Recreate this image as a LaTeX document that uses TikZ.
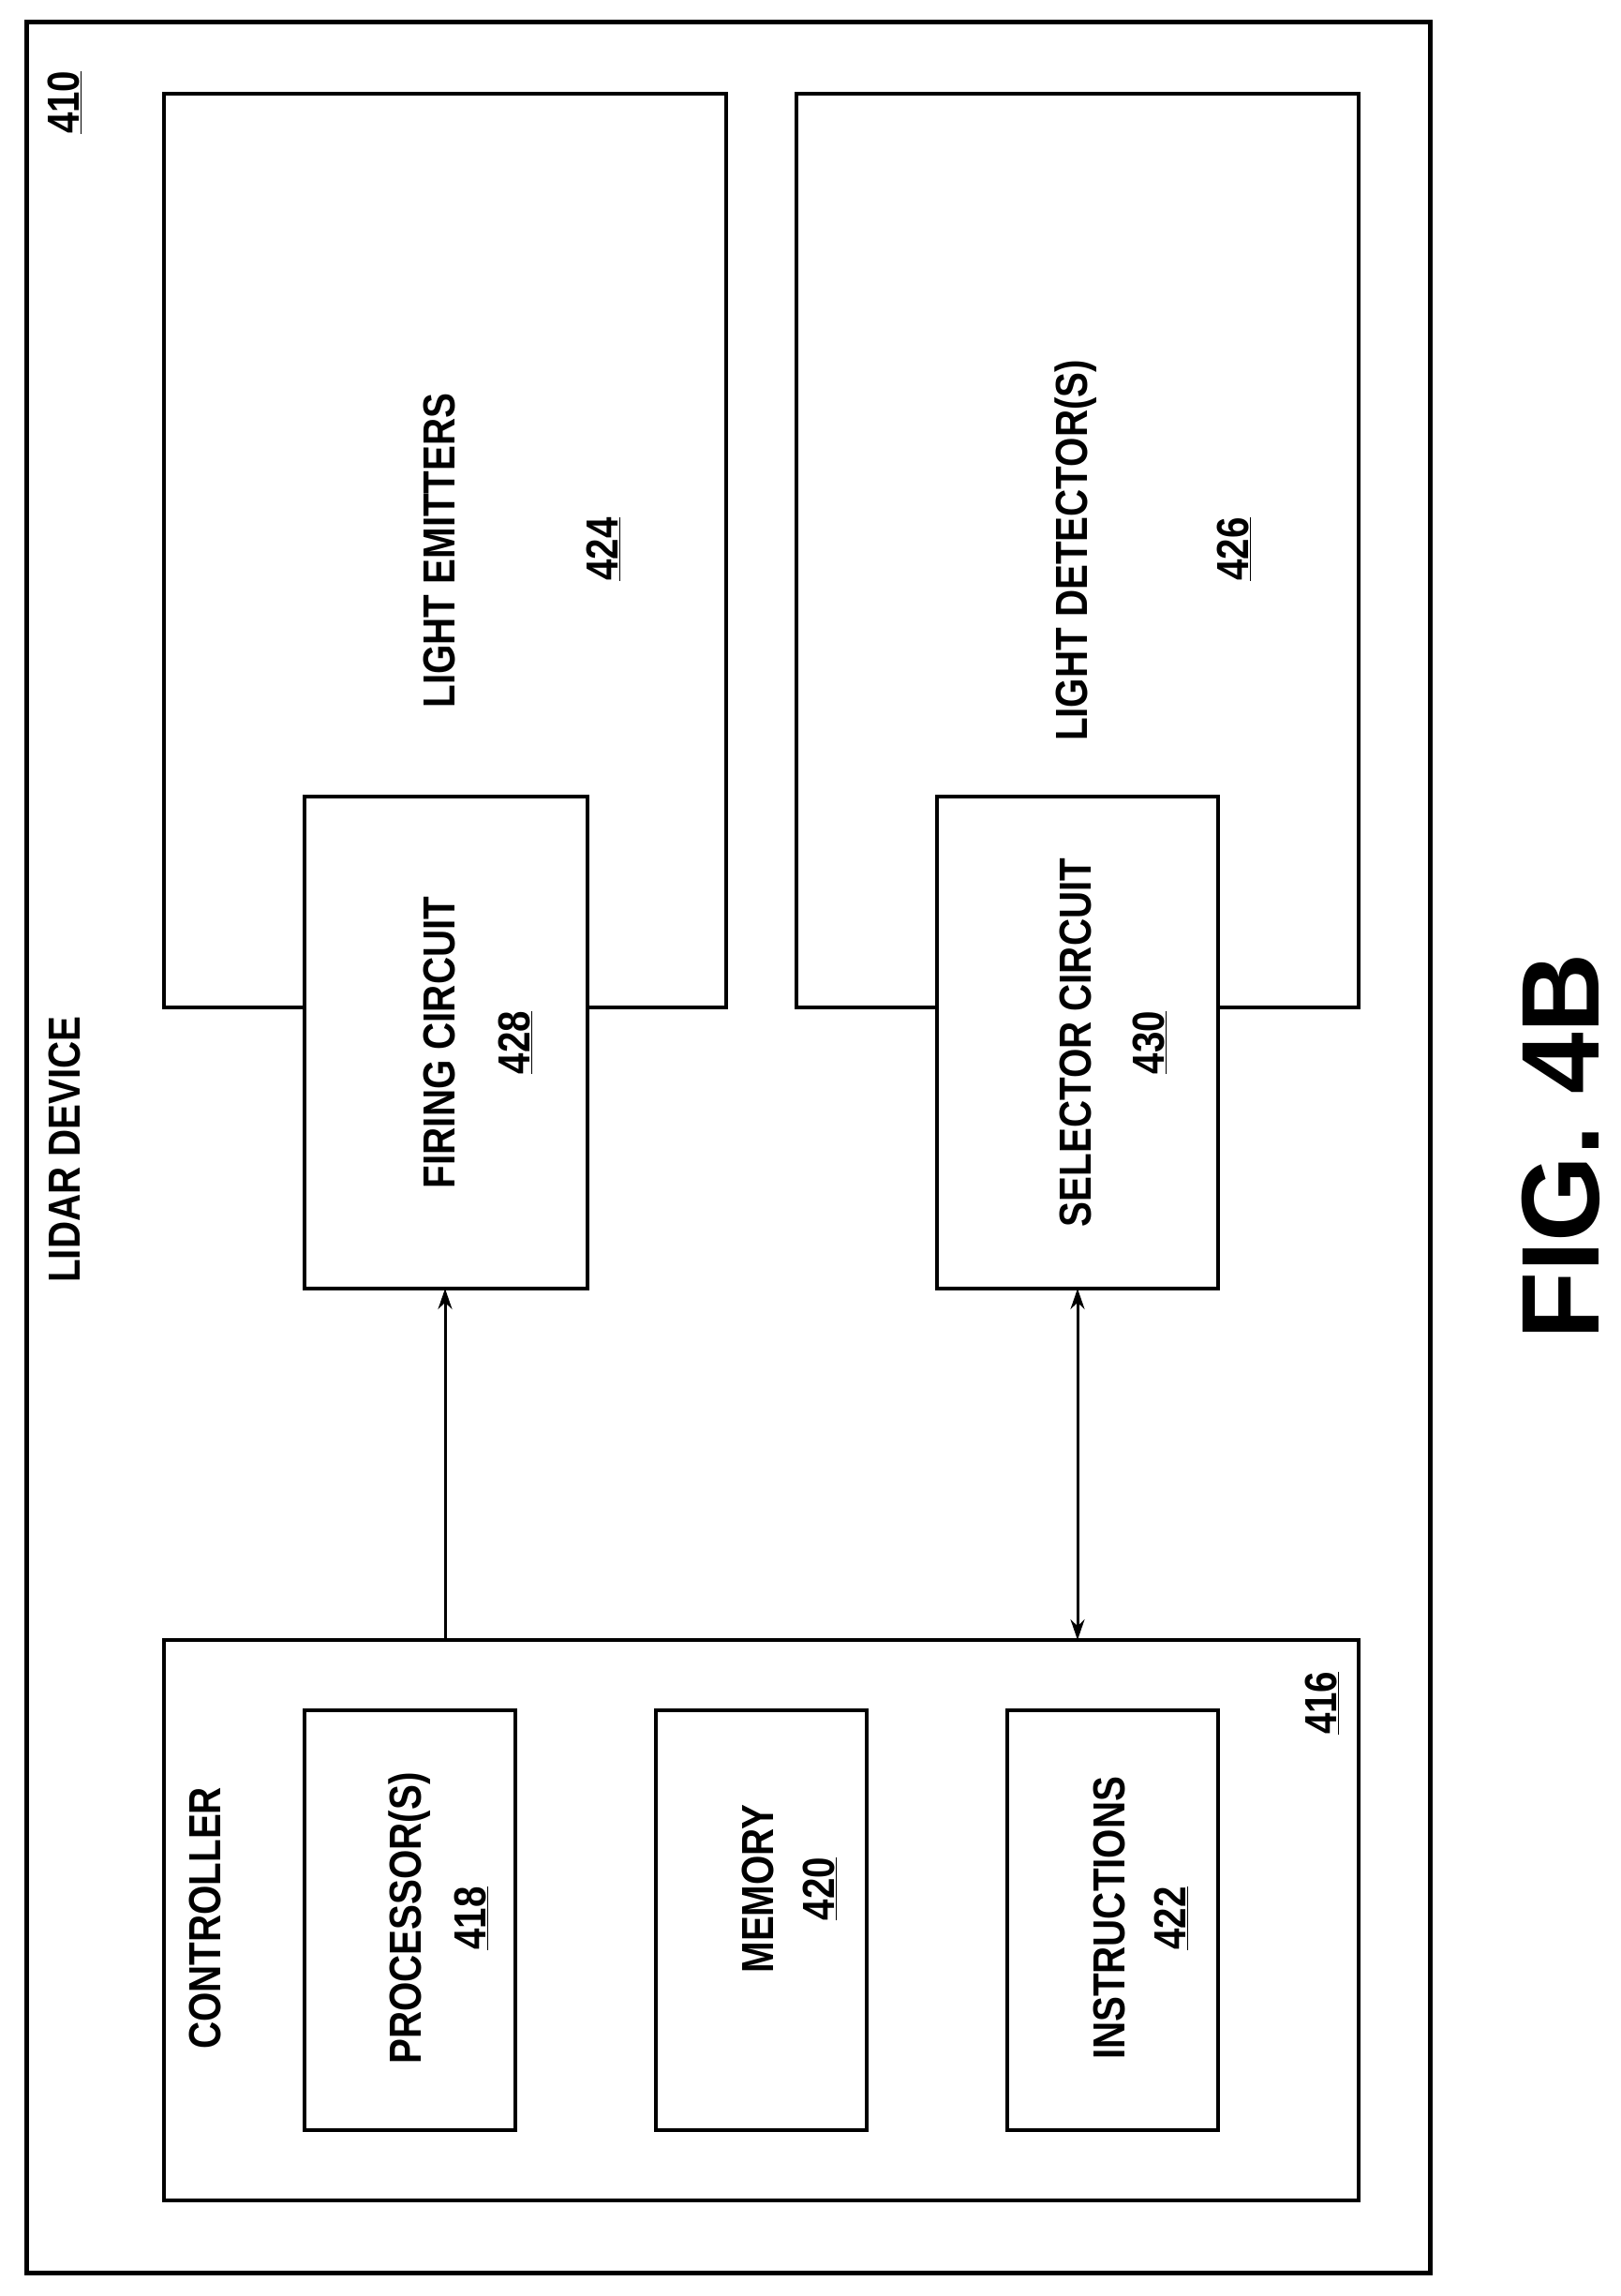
\documentclass[tikz,border=0pt]{standalone}
\usepackage{fontspec}
\setmainfont{Liberation Sans}
\usetikzlibrary{arrows.meta}
\newcommand{\tx}[1]{\scalebox{0.84}[1]{#1}}
\begin{document}
\begin{tikzpicture}[x=1.5636pt,y=-1.5636pt,
  box/.style={draw,line width=4pt},
  lab/.style={rotate=90,inner sep=0pt,font=\fontsize{48}{50}\selectfont\bfseries},
  arr/.style={line width=3pt,-{Stealth[length=22pt,width=15pt]}},
  darr/.style={line width=3pt,{Stealth[length=22pt,width=15pt]}-{Stealth[length=22pt,width=15pt]}}]
\useasboundingbox (0,0) rectangle (1107,1568);
\draw[box,line width=5pt] (18,15) rectangle (977,1552);
\node[lab] (n410) at (44,70) {\tx{\underline{410}}};
\node[lab] (lidar) at (44,785) {\tx{LIDAR DEVICE}};
\draw[box] (112,64) rectangle (496,688);
\node[lab] (le) at (300,376) {\tx{LIGHT EMITTERS}};
\node[lab] (n424) at (412,375) {\tx{\underline{424}}};
\draw[box] (544,64) rectangle (928,688);
\node[lab] (ld) at (735,376) {\tx{LIGHT DETECTOR(S)}};
\node[lab] (n426) at (843,375) {\tx{\underline{426}}};
\draw[box,fill=white] (208,544) rectangle (401,880);
\coordinate (fc) at (304,880);
\node[lab] (fire) at (300,712) {\tx{FIRING CIRCUIT}};
\node[lab] (n428) at (352,712) {\tx{\underline{428}}};
\draw[box,fill=white] (640,544) rectangle (832,880);
\coordinate (sc) at (736,880);
\node[lab] (sel) at (735,712) {\tx{SELECTOR CIRCUIT}};
\node[lab] (n430) at (785,712) {\tx{\underline{430}}};
\draw[box] (112,1120) rectangle (928,1503);
\coordinate (c1) at (304,1120);
\coordinate (c2) at (736,1120);
\node[lab] (ctrl) at (140,1310) {\tx{CONTROLLER}};
\node[lab] (n416) at (903,1163) {\tx{\underline{416}}};
\draw[box] (208,1168) rectangle (352,1455);
\node[lab] (proc) at (280,1310) {\tx{PROCESSOR(S)}};
\node[lab] (n418) at (322,1310) {\tx{\underline{418}}};
\draw[box] (448,1168) rectangle (592,1455);
\node[lab] (mem) at (518,1290) {\tx{MEMORY}};
\node[lab] (n420) at (560,1290) {\tx{\underline{420}}};
\draw[box] (688,1168) rectangle (832,1455);
\node[lab] (ins) at (758,1310) {\tx{INSTRUCTIONS}};
\node[lab] (n422) at (800,1310) {\tx{\underline{422}}};
\draw[arr] (c1) -- (fc);
\draw[darr] (c2) -- (sc);
\node[rotate=90,inner sep=0pt,font=\fontsize{118}{120}\selectfont\bfseries] (fig) at (1066,783) {FIG. 4B};
\end{tikzpicture}
\end{document}
